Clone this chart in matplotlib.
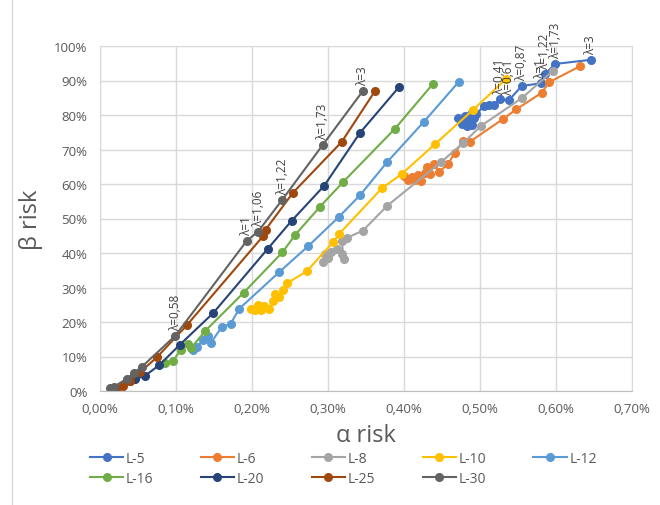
import matplotlib
matplotlib.use('Agg')
import matplotlib.pyplot as plt
from matplotlib.lines import Line2D

plt.rcParams['font.family'] = ['Open Sans', 'DejaVu Sans']

# alpha risk (%) and beta risk (%) per series
l5_alpha = [0.471, 0.476, 0.480, 0.483, 0.486, 0.489, 0.492, 0.488, 0.495, 0.505, 0.512, 0.518, 0.526, 0.538, 0.555, 0.580, 0.585, 0.599, 0.646]
l5_beta = [79.0, 77.5, 79.8, 76.8, 78.5, 77.0, 79.0, 80.3, 80.2, 82.6, 83.0, 82.8, 84.6, 84.3, 88.4, 89.2, 91.8, 94.8, 96.0]

l6_alpha = [0.400, 0.405, 0.410, 0.414, 0.418, 0.422, 0.427, 0.430, 0.434, 0.440, 0.446, 0.458, 0.467, 0.478, 0.487, 0.530, 0.548, 0.581, 0.591, 0.632]
l6_beta = [62.3, 61.2, 62.0, 61.3, 62.6, 60.8, 63.2, 64.8, 63.0, 65.8, 63.4, 65.9, 69.0, 72.6, 72.3, 78.8, 81.7, 86.4, 89.5, 94.2]

l8_alpha = [0.294, 0.300, 0.296, 0.304, 0.312, 0.319, 0.321, 0.318, 0.325, 0.346, 0.378, 0.449, 0.478, 0.501, 0.555, 0.596]
l8_beta = [37.4, 38.6, 39.6, 40.4, 41.2, 39.8, 38.2, 43.6, 44.4, 46.5, 53.7, 66.4, 71.9, 76.8, 84.9, 92.8]

l10_alpha = [0.199, 0.204, 0.208, 0.212, 0.216, 0.222, 0.228, 0.230, 0.236, 0.241, 0.246, 0.272, 0.307, 0.315, 0.371, 0.397, 0.441, 0.491, 0.534]
l10_beta = [23.8, 23.5, 24.8, 23.4, 24.5, 23.8, 26.1, 28.0, 27.2, 29.3, 31.2, 34.7, 43.2, 45.6, 58.8, 62.9, 71.6, 81.5, 90.4]

l12_alpha = [0.122, 0.128, 0.136, 0.142, 0.146, 0.160, 0.172, 0.183, 0.236, 0.274, 0.314, 0.342, 0.378, 0.426, 0.472]
l12_beta = [11.8, 12.8, 14.8, 15.8, 14.0, 18.5, 19.5, 23.8, 34.5, 42.0, 50.4, 56.7, 66.4, 78.0, 89.6]

l16_alpha = [0.085, 0.096, 0.106, 0.116, 0.120, 0.138, 0.189, 0.240, 0.257, 0.289, 0.320, 0.388, 0.438]
l16_beta = [8.0, 8.7, 11.8, 13.5, 12.5, 17.3, 28.5, 40.2, 45.3, 53.3, 60.6, 76.0, 89.0]

l20_alpha = [0.040, 0.046, 0.059, 0.078, 0.105, 0.149, 0.221, 0.252, 0.295, 0.342, 0.393]
l20_beta = [3.0, 3.5, 4.4, 7.5, 13.4, 22.6, 41.3, 49.3, 59.5, 74.8, 88.0]

l25_alpha = [0.022, 0.030, 0.040, 0.053, 0.075, 0.114, 0.215, 0.218, 0.254, 0.318, 0.362]
l25_beta = [0.8, 1.5, 2.8, 5.5, 9.8, 19.0, 45.0, 46.8, 57.5, 72.2, 87.0]

l30_alpha = [0.013, 0.018, 0.035, 0.045, 0.055, 0.099, 0.193, 0.208, 0.240, 0.293, 0.346]
l30_beta = [0.8, 1.2, 3.5, 5.3, 7.0, 16.0, 43.5, 46.2, 55.5, 71.3, 87.0]

series = [
    ('L-5', l5_alpha, l5_beta, '#4472C4'),
    ('L-6', l6_alpha, l6_beta, '#ED7D31'),
    ('L-8', l8_alpha, l8_beta, '#A5A5A5'),
    ('L-10', l10_alpha, l10_beta, '#FFC000'),
    ('L-12', l12_alpha, l12_beta, '#5B9BD5'),
    ('L-16', l16_alpha, l16_beta, '#70AD47'),
    ('L-20', l20_alpha, l20_beta, '#264478'),
    ('L-25', l25_alpha, l25_beta, '#9E480E'),
    ('L-30', l30_alpha, l30_beta, '#636363'),
]

# lambda labels: (text, alpha, beta)
lam_labels = [
    ('λ=0,58', 0.099, 16.0), ('λ=1', 0.193, 43.5), ('λ=1,06', 0.208, 46.2),
    ('λ=1,22', 0.240, 55.5), ('λ=1,73', 0.293, 71.3), ('λ=3', 0.346, 87.0),
    ('λ=0,41', 0.526, 84.6), ('λ=0,61', 0.538, 84.3), ('λ=0,87', 0.555, 88.4),
    ('λ=1', 0.580, 89.2), ('λ=1,22', 0.585, 91.8), ('λ=1,73', 0.599, 94.8),
    ('λ=3', 0.646, 96.0),
]

x_ticks = [0.0, 0.1, 0.2, 0.3, 0.4, 0.5, 0.6, 0.7]
y_ticks = [0, 10, 20, 30, 40, 50, 60, 70, 80, 90, 100]

W, H = 660, 506
fig = plt.figure(figsize=(W / 100, H / 100), dpi=100)
ax = fig.add_axes([100 / W, 1 - 392 / H, 532 / W, 345 / H])

lines = []
for name, a, b, c in series:
    ln, = ax.plot(a, b, color=c, marker='o', markersize=5.5, linewidth=1.5, label=name)
    lines.append(ln)

for txt, a, b in lam_labels:
    ax.annotate(txt, (a, b), xytext=(0, 4), textcoords='offset points', rotation=90,
                ha='center', va='bottom', fontsize=8.5, color='#404040')

ax.set_xlim(0, 0.7)
ax.set_ylim(0, 100)
ax.set_xticks(x_ticks)
ax.set_yticks(y_ticks)
ax.set_xticklabels(['{:.2f}%'.format(v).replace('.', ',') for v in x_ticks])
ax.set_yticklabels(['{}%'.format(v) for v in y_ticks])
ax.tick_params(length=0, labelsize=9.5, labelcolor='#595959')
ax.tick_params(axis='x', pad=8)
ax.tick_params(axis='y', pad=9)
ax.grid(True, color='#d9d9d9', linewidth=1)
ax.set_axisbelow(True)
for s in ['top', 'right', 'left']:
    ax.spines[s].set_color('#d9d9d9')
ax.spines['bottom'].set_color('#bfbfbf')

fig.text(366 / W, 1 - 436 / H, 'α risk', ha='center', va='center', fontsize=17, color='#595959')
fig.text(31 / W, 1 - 220 / H, 'β risk', ha='center', va='center', fontsize=17, color='#595959', rotation=90)

# legend is filled column by column, so reorder to get rows L-5..L-12 / L-16..L-30
order = [0, 5, 1, 6, 2, 7, 3, 8, 4]
leg = ax.legend([lines[i] for i in order], [series[i][0] for i in order],
                loc='upper left', bbox_to_anchor=(90 / W, 1 - 452 / H), bbox_transform=fig.transFigure,
                ncol=5, frameon=False, fontsize=10, handlelength=2.4, handletextpad=0.2,
                columnspacing=3.4, labelspacing=0.35, borderpad=0, borderaxespad=0)
for t in leg.get_texts():
    t.set_color('#595959')

# outer chart border (left side)
fig.add_artist(Line2D([12 / W, 12 / W], [0, 1], transform=fig.transFigure, color='#d9d9d9', linewidth=1))

fig.savefig('out.png', dpi=100)
